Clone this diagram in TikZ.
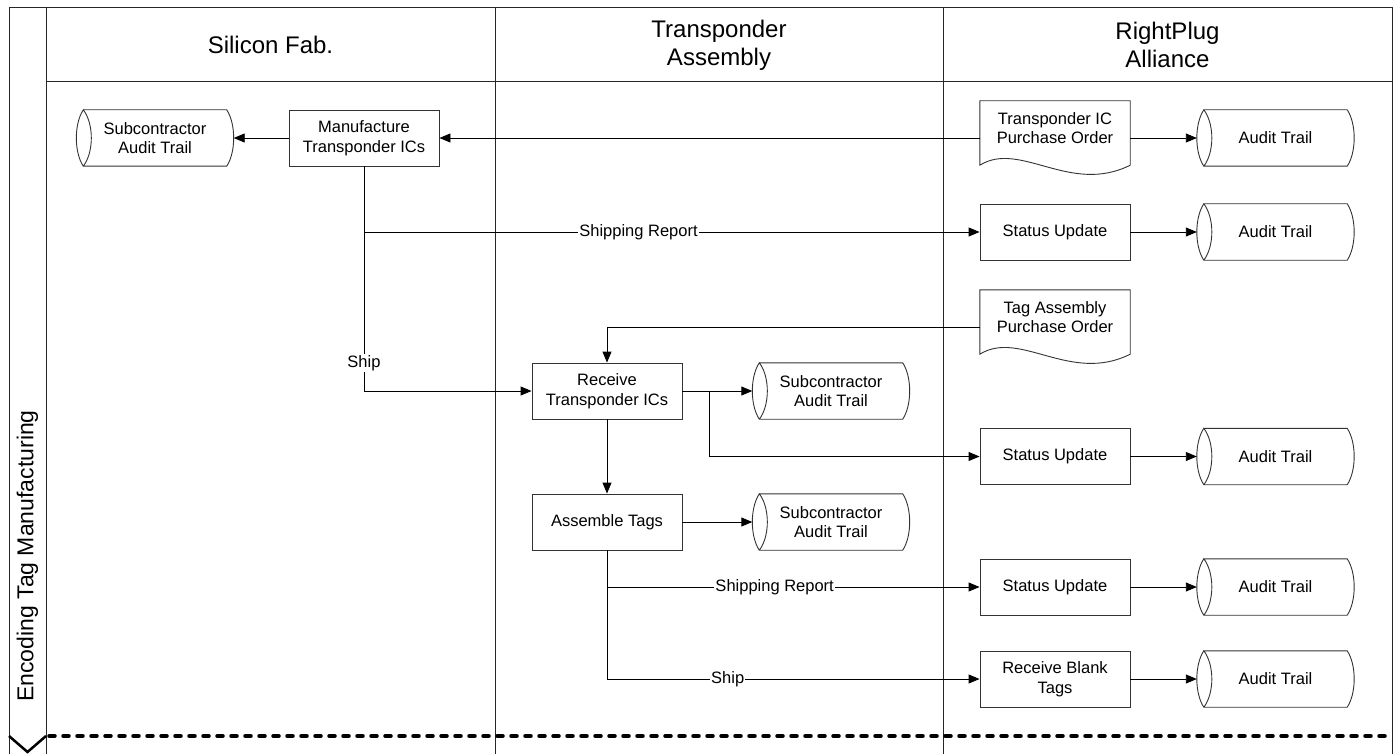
\documentclass[tikz,border=0pt]{standalone}
\usepackage{fontspec}
\setmainfont{Liberation Sans}
\usetikzlibrary{arrows.meta}
\newcommand{\boxfont}{\fontsize{16.5}{19.5}\selectfont}
\newcommand{\hdfont}{\fontsize{24}{28}\selectfont}
\newcommand{\vtfont}{\fontsize{23}{27}\selectfont}
\newcommand{\stordraw}[1]{%
  \draw[shapeline]
    ([xshift=7pt]#1.north west) -- ([xshift=-7pt]#1.north east)
    .. controls ([xshift=2.3pt,yshift=-14pt]#1.north east) and ([xshift=2.3pt,yshift=14pt]#1.south east) .. ([xshift=-7pt]#1.south east)
    -- ([xshift=7pt]#1.south west)
    .. controls ([xshift=-2.3pt,yshift=14pt]#1.south west) and ([xshift=-2.3pt,yshift=-14pt]#1.north west) .. ([xshift=7pt]#1.north west)
    .. controls ([xshift=17.7pt,yshift=-14pt]#1.north west) and ([xshift=17.7pt,yshift=14pt]#1.south west) .. ([xshift=7pt]#1.south west);
}
\newcommand{\docdraw}[1]{%
  \draw[shapeline]
    ([yshift=-10pt]#1.south west) -- (#1.north west) -- (#1.north east) -- ([yshift=-10pt]#1.south east)
    .. controls ([xshift=-60pt,yshift=-40pt]#1.south east) and ([xshift=-110pt,yshift=15pt]#1.south east) .. ([yshift=-10pt]#1.south west) -- cycle;
}
\tikzset{
  shapeline/.style={line width=0.9pt, draw=black!80},
  proc/.style={draw=black!80, line width=0.9pt, minimum width=150pt, minimum height=56pt, inner sep=2pt, align=center, font=\boxfont},
  stor/.style={minimum width=157pt, minimum height=56pt, inner sep=2pt, align=center, font=\boxfont},
  docu/.style={minimum width=150pt, minimum height=54pt, inner sep=2pt, align=center, font=\boxfont},
  arr/.style={-{Triangle[length=11pt,width=9pt]}, line width=0.9pt},
  lbl/.style={fill=white, inner sep=1pt, font=\boxfont},
  lane/.style={line width=1pt, draw=black!85},
}
\begin{document}
\begin{tikzpicture}[x=1pt,y=-1pt]
\useasboundingbox (0,0) rectangle (1395,754);
\fill[white] (0,0) rectangle (1395,754);
% swimlane frame
\draw[lane] (9,754) -- (9,8) -- (1392,8) -- (1392,754);
\draw[lane] (46,8) -- (46,754);
\draw[lane] (495,8) -- (495,754);
\draw[lane] (943,8) -- (943,754);
\draw[lane] (46,82) -- (1392,82);
\node[font=\hdfont, align=center] (h1) at (270.5,45) {Silicon Fab.};
\node[font=\hdfont, align=center] (h2) at (719,45) {Transponder\\Assembly};
\node[font=\hdfont, align=center] (h3) at (1167.5,45) {RightPlug\\Alliance};
\node[font=\vtfont, rotate=90] (vt) at (27.5,556) {Encoding Tag Manufacturing};
\draw[line width=3.5pt, line cap=round, dash pattern=on 6pt off 8pt] (49,736) -- (1390,736);
\draw[line width=2.5pt] (9,736) -- (27.5,752) -- (46,736);

% nodes
\node[stor] (sat1) at (155,138) {Subcontractor\\Audit Trail};
\node[proc] (mfg) at (364,138) {Manufacture\\Transponder ICs};
\node[docu] (po1) at (1055,128) {Transponder IC\\Purchase Order};
\node[stor] (at1) at (1275.5,138) {Audit Trail};
\node[proc] (su1) at (1055,232) {Status Update};
\node[stor] (at2) at (1275.5,232) {Audit Trail};
\node[docu] (po2) at (1055,317) {Tag Assembly\\Purchase Order};
\node[proc] (rcv) at (607,391) {Receive\\Transponder ICs};
\node[stor] (sat2) at (831,391) {Subcontractor\\Audit Trail};
\node[proc] (su3) at (1055,456.5) {Status Update};
\node[stor] (at3) at (1275.5,456.5) {Audit Trail};
\node[proc] (asm) at (607,522) {Assemble Tags};
\node[stor] (sat3) at (831,522) {Subcontractor\\Audit Trail};
\node[proc] (su4) at (1055,587) {Status Update};
\node[stor] (at4) at (1275.5,587) {Audit Trail};
\node[proc] (rbt) at (1055,679) {Receive Blank\\Tags};
\node[stor] (at5) at (1275.5,679) {Audit Trail};

\stordraw{sat1}\stordraw{at1}\stordraw{at2}\stordraw{sat2}\stordraw{at3}
\stordraw{sat3}\stordraw{at4}\stordraw{at5}
\docdraw{po1}\docdraw{po2}

% connectors
\draw[arr] (mfg.west) -- (sat1.east);
\draw[arr] (po1.west |- mfg.east) -- (mfg.east);
\draw[arr] (po1.east |- at1.west) -- (at1.west);
\draw[arr] (mfg.south) |- node[lbl,pos=0.723] (l1) {Shipping Report} (su1.west);
\draw[arr] (su1.east) -- (at2.west);
\draw[arr] (mfg.south) |- node[lbl,pos=0.438] (l2) {Ship} (rcv.west);
\draw[arr] ([yshift=-10pt]po2.west) -| (rcv.north);
\draw[arr] (rcv.east) -- (sat2.west);
\coordinate (b1) at (709,391);
\draw[arr] (b1) |- (su3.west);
\draw[arr] (su3.east) -- (at3.west);
\draw[arr] (rcv.south) -- (asm.north);
\draw[arr] (asm.east) -- (sat3.west);
\draw[arr] (asm.south) |- node[lbl,pos=0.725] (l3) {Shipping Report} (su4.west);
\draw[arr] (su4.east) -- (at4.west);
\draw[arr] (asm.south) |- node[lbl,pos=0.662] (l4) {Ship} (rbt.west);
\draw[arr] (rbt.east) -- (at5.west);
\end{tikzpicture}
\end{document}
